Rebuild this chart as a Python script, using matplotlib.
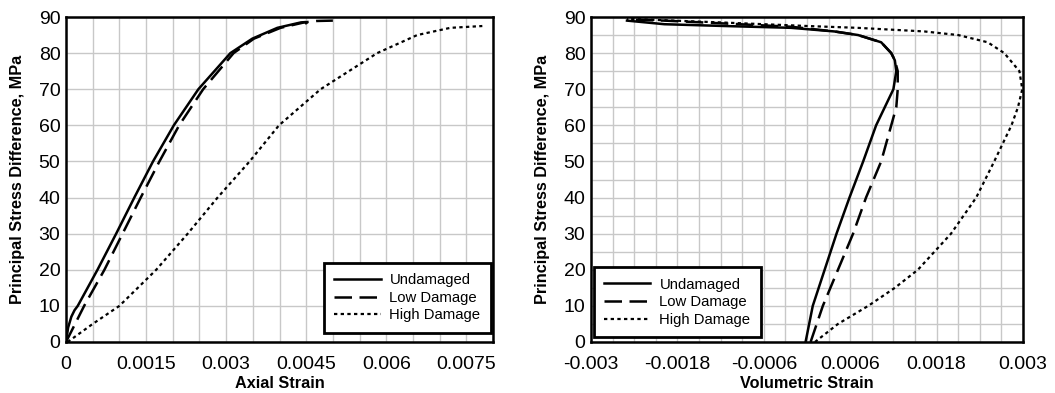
import matplotlib.pyplot as plt
from matplotlib.ticker import MultipleLocator

plt.rcParams['font.family'] = ['Liberation Sans', 'DejaVu Sans']

# ----------- Axial strain curves (left) -----------
ax_undamaged_x = [0, 0.00004, 0.0001, 0.00016, 0.00022, 0.00059, 0.00094, 0.00128, 0.00163,
                  0.00202, 0.00248, 0.00308, 0.00349, 0.00396, 0.0044, 0.00449, 0.0045]
ax_undamaged_y = [0, 4, 7, 8.8, 10, 20, 30, 40, 50, 60, 70, 80, 84, 87, 88.5, 88.6, 88.3]
ax_low_x = [0, 0.00034, 0.00072, 0.00106, 0.0014, 0.00175, 0.00212, 0.00257, 0.00314,
            0.00352, 0.00402, 0.00446, 0.0047, 0.005]
ax_low_y = [0, 10, 20, 30, 40, 50, 60, 70, 80, 84, 87, 88.5, 88.9, 89]
ax_high_x = [0.00003, 0.0005, 0.001, 0.00169, 0.00228, 0.00284, 0.00344, 0.00399, 0.00477,
             0.00583, 0.00658, 0.0072, 0.0078]
ax_high_y = [0, 5, 10, 20, 30, 40, 50, 60, 70, 80, 85, 87, 87.5]

# ----------- Volumetric strain curves (right) -----------
vol_undamaged_x = [-0.00002, 0.00008, 0.000245, 0.00041, 0.00059, 0.00078, 0.00096, 0.00108,
                   0.0012, 0.00124, 0.00122, 0.00117, 0.00103, 0.00071, 0.00038, -0.00022,
                   -0.00114, -0.00198, -0.0025]
vol_undamaged_y = [0, 10, 20, 30, 40, 50, 60, 65, 70, 75, 78, 80, 83, 85, 86, 87, 87.5, 88, 89]
vol_low_x = [0.00005, 0.00022, 0.00043, 0.00064, 0.00082, 0.00103, 0.00117, 0.00124, 0.00126,
             0.00126, 0.00122, 0.00117, 0.00103, 0.00071, 0.00038, -0.00022, -0.00114,
             -0.00198, -0.0025]
vol_low_y = [0, 10, 20, 30, 40, 50, 60, 65, 70, 75, 78, 80, 83, 85, 86, 87.3, 88.2, 89, 89.3]
vol_high_x = [0.00011, 0.00043, 0.00085, 0.00122, 0.00154, 0.00177, 0.002, 0.00235, 0.0026,
              0.00272, 0.00284, 0.00293, 0.00299, 0.00295, 0.00274, 0.00251, 0.0021, 0.00163,
              0.0007, 0.00001, -0.0012, -0.0025]
vol_high_y = [0, 5, 10, 15, 20, 25, 30, 40, 50, 55, 60, 65, 70, 75, 80, 83, 85, 86, 87, 87.5,
              88.5, 89.5]

labels = ["Undamaged", "Low Damage", "High Damage"]

fig = plt.figure(figsize=(10.55, 3.93), dpi=100)
ax1 = fig.add_axes([66 / 1055, 1 - 342 / 393, 427 / 1055, 325 / 393])
ax2 = fig.add_axes([591 / 1055, 1 - 342 / 393, 432 / 1055, 325 / 393])

styles = [dict(color='black', lw=1.8, ls='-'),
          dict(color='black', lw=1.8, ls=(0, (7, 3))),
          dict(color='black', lw=1.6, ls=(0, (1.5, 1.5)))]

ax1.plot(ax_undamaged_x, ax_undamaged_y, label=labels[0], **styles[0])
ax1.plot(ax_low_x, ax_low_y, label=labels[1], **styles[1])
ax1.plot(ax_high_x, ax_high_y, label=labels[2], **styles[2])

ax2.plot(vol_undamaged_x, vol_undamaged_y, label=labels[0], **styles[0])
ax2.plot(vol_low_x, vol_low_y, label=labels[1], **styles[1])
ax2.plot(vol_high_x, vol_high_y, label=labels[2], **styles[2])

ax1.set_xlim(0, 0.008)
ax1.set_xticks([0, 0.0015, 0.003, 0.0045, 0.006, 0.0075])
ax1.set_xticklabels(["0", "0.0015", "0.003", "0.0045", "0.006", "0.0075"])
ax1.xaxis.set_minor_locator(MultipleLocator(0.0005))
ax1.set_xlabel("Axial Strain", fontsize=11.7, fontweight='bold', labelpad=2)

ax2.set_xlim(-0.003, 0.003)
ax2.set_xticks([-0.003, -0.0018, -0.0006, 0.0006, 0.0018, 0.003])
ax2.set_xticklabels(["-0.003", "-0.0018", "-0.0006", "0.0006", "0.0018", "0.003"])
ax2.xaxis.set_minor_locator(MultipleLocator(0.0003))
ax2.yaxis.set_minor_locator(MultipleLocator(5))
ax2.set_xlabel("Volumetric Strain", fontsize=11.7, fontweight='bold', labelpad=2)

for ax in (ax1, ax2):
    ax.set_ylim(0, 90)
    ax.set_yticks(range(0, 91, 10))
    ax.set_ylabel("Principal Stress Difference, MPa", fontsize=11.7, fontweight='bold',
                  labelpad=9.5)
    ax.grid(True, which='both', color='#c8c8c8', lw=1)
    ax.set_axisbelow(True)
    ax.tick_params(which='both', length=0, labelsize=14)
    ax.tick_params(axis='x', pad=10)
    ax.tick_params(axis='y', pad=4)
    for s in ax.spines.values():
        s.set_linewidth(1.8)

leg_kw = dict(fontsize=10.7, fancybox=False, framealpha=1, edgecolor='black',
              handlelength=3.1, labelspacing=0.25, borderpad=0.7, handletextpad=0.6,
              borderaxespad=0)
leg1 = ax1.legend(loc='lower right', bbox_to_anchor=(0.995, 0.028), **leg_kw)
leg2 = ax2.legend(loc='lower left', bbox_to_anchor=(0.007, 0.014), **leg_kw)
for leg in (leg1, leg2):
    leg.get_frame().set_linewidth(2)

fig.savefig("out.png", dpi=100)
